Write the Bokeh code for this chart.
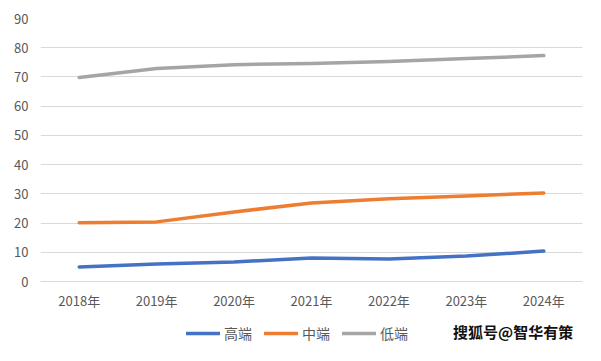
from bokeh.plotting import figure
from bokeh.models import Legend, LegendItem, Label, Range1d, FixedTicker
from bokeh.embed import file_html
from bokeh.resources import INLINE

years = ["2018年", "2019年", "2020年", "2021年", "2022年", "2023年", "2024年"]
high = [5.0, 6.0, 6.7, 8.0, 7.7, 8.7, 10.4]
mid = [20.1, 20.4, 23.8, 26.9, 28.3, 29.3, 30.3]
low = [69.8, 72.9, 74.2, 74.6, 75.3, 76.3, 77.3]
names = ["高端", "中端", "低端"]
colors = ["#4472C4", "#ED7D31", "#A5A5A5"]
yticks = [0, 10, 20, 30, 40, 50, 60, 70, 80, 90]
watermark = "搜狐号@智华有策"

FONT = "Noto Sans CJK SC"
TXT = "#595959"

W, H = 585, 345
TOP, LEFT, RIGHT = 18, 40, 3
ZERO_Y = 281
px_per_unit = (ZERO_Y - TOP) / 90.0
y_start = -(H - ZERO_Y) / px_per_unit

p = figure(width=W, height=H, x_range=years, y_range=Range1d(y_start, 90),
           output_backend="svg", toolbar_location=None,
           min_border_left=LEFT, min_border_right=RIGHT, min_border_top=TOP,
           min_border_bottom=0)
p.outline_line_color = None
p.background_fill_color = "white"
p.border_fill_color = "white"

renderers = []
for vals, c in zip([high, mid, low], colors):
    r = p.line(years, vals, line_color=c, line_width=3.5, line_cap="round", line_join="round")
    renderers.append(r)

p.xgrid.grid_line_color = None
p.ygrid.grid_line_color = "#D9D9D9"
p.ygrid.grid_line_width = 1
p.ygrid.ticker = FixedTicker(ticks=yticks)
p.yaxis.ticker = FixedTicker(ticks=yticks)
p.yaxis.axis_line_color = None
p.yaxis.major_tick_line_color = None
p.yaxis.minor_tick_line_color = None
p.yaxis.major_label_text_color = TXT
p.yaxis.major_label_text_font = FONT
p.yaxis.major_label_text_font_size = "13px"
p.yaxis.major_label_standoff = 6

p.xaxis.fixed_location = 0
p.xaxis.axis_line_color = "#D9D9D9"
p.xaxis.major_tick_line_color = None
p.xaxis.minor_tick_line_color = None
p.xaxis.major_label_text_color = TXT
p.xaxis.major_label_text_font = FONT
p.xaxis.major_label_text_font_size = "13px"
p.xaxis.major_label_standoff = 3

legend = Legend(items=[LegendItem(label=n, renderers=[r]) for n, r in zip(names, renderers)],
                orientation="horizontal", location=(146, 2),
                glyph_width=34, glyph_height=10, label_standoff=4, spacing=12,
                label_text_font=FONT, label_text_font_size="14px", label_text_color=TXT,
                border_line_color=None, background_fill_alpha=0, padding=2, margin=0)
p.add_layout(legend, "center")

wm = Label(x=6.88, y=(ZERO_Y - 331) / px_per_unit, text=watermark,
           text_font=FONT, text_font_size="15px", text_font_style="bold",
           text_color="#111111", text_align="right", text_baseline="middle")
p.add_layout(wm)

open("out.html", "w").write(file_html(p, INLINE))
